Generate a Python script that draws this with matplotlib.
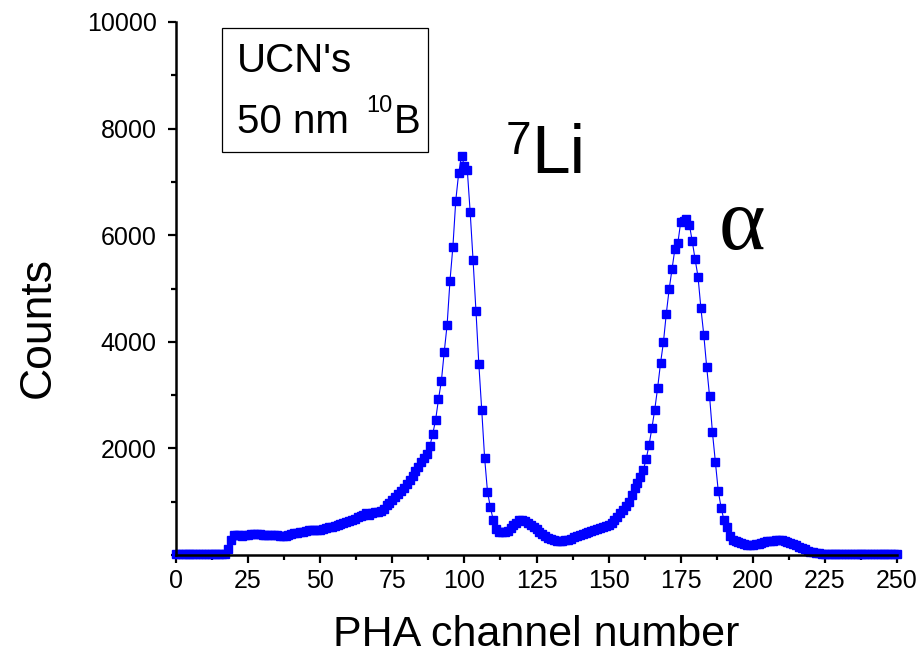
import numpy as np
import matplotlib
matplotlib.use("Agg")
import matplotlib.pyplot as plt
from matplotlib.patches import Rectangle
from matplotlib.ticker import MultipleLocator

plt.rcParams['font.family'] = ['Liberation Sans', 'DejaVu Sans']

# PHA spectrum, one value per channel
channels = np.arange(0, 251)
counts = (
    [20] * 18
    + [120, 280, 370, 375, 370, 365, 370, 380, 390, 395, 400, 395, 385, 380, 375, 380, 385, 370,
       355, 350, 365, 385, 400, 410, 420, 430, 440, 455, 465, 470, 475, 470, 475, 490, 505, 520,
       530, 540, 555, 575, 595, 615, 635, 660, 685, 705, 730, 755, 780, 760, 780, 800, 815, 830,
       870, 930, 980, 1030, 1090, 1150, 1200, 1260, 1330, 1400, 1480, 1570, 1660, 1750, 1830, 1890,
       2040, 2270, 2530, 2920, 3260, 3810, 4320, 5150, 5780, 6650, 7160, 7490, 7300, 7220, 6430,
       5530, 4580, 3580, 2720, 1825, 1190, 895, 655, 480, 430, 425, 430, 450, 500, 560, 610, 650,
       660, 640, 600, 570, 530, 490, 440, 390, 350, 320, 300, 280, 265, 260, 265, 280, 290, 310,
       330, 355, 375, 395, 415, 435, 450, 465, 480, 500, 520, 545, 570, 610, 660, 720, 790, 845,
       920, 1000, 1125, 1250, 1350, 1470, 1590, 1795, 2060, 2380, 2730, 3140, 3600, 3990, 4530,
       4990, 5370, 5750, 5850, 6250, 6270, 6300, 6200, 5885, 5545, 5220, 4630, 4130, 3530, 2980,
       2300, 1750, 1210, 890, 655, 520, 360, 290, 260, 240, 220, 205, 195, 190, 195, 205, 215,
       230, 245, 255, 265, 272, 278, 280, 275, 265, 250, 230, 210, 190, 160, 130, 105, 80, 65,
       50, 40, 35]
)
counts = counts + [20] * (len(channels) - len(counts))

xticks = [0, 25, 50, 75, 100, 125, 150, 175, 200, 225, 250]
yticks = [2000, 4000, 6000, 8000, 10000]

fig = plt.figure(figsize=(9.24, 6.6), dpi=100)
ax = fig.add_axes([0.1905, 0.159, 0.7803, 0.8077])

ax.plot(channels, counts, color='#0000ff', lw=0.8, marker='s', ms=5.6,
        mec='#0000ff', mfc='#0000ff', clip_on=False)

ax.set_xlim(0, 250)
ax.set_ylim(0, 10000)
ax.set_xticks(xticks)
ax.set_yticks(yticks)
ax.xaxis.set_minor_locator(MultipleLocator(12.5))
ax.yaxis.set_minor_locator(MultipleLocator(1000))

for s in ['top', 'right']:
    ax.spines[s].set_visible(False)
for s in ['left', 'bottom']:
    ax.spines[s].set_linewidth(1.8)
ax.tick_params(which='major', direction='out', length=6, width=1.6, labelsize=18, pad=4)
ax.tick_params(axis='y', which='major', pad=8)
ax.tick_params(which='minor', direction='out', length=3.5, width=1.6)

ax.set_xlabel('PHA channel number', fontsize=31)
ax.xaxis.set_label_coords(0.5, -0.113)
ax.set_ylabel('Counts', fontsize=32)
ax.yaxis.set_label_coords(-0.162, 0.426)

# inset label box
ax.add_patch(Rectangle((0.0634, 0.7555), 0.2866, 0.2335, transform=ax.transAxes,
                       fill=False, ec='black', lw=0.9, clip_on=False))
ax.text(0.084, 0.906, "UCN's", transform=ax.transAxes, fontsize=29, va='baseline')
ax.text(0.084, 0.792, "50 nm", transform=ax.transAxes, fontsize=29, va='baseline')
ax.text(0.264, 0.832, "10", transform=ax.transAxes, fontsize=17, va='baseline')
ax.text(0.302, 0.792, "B", transform=ax.transAxes, fontsize=29, va='baseline')

# peak labels
ax.text(0.457, 0.752, "7", transform=ax.transAxes, fontsize=33, va='baseline')
ax.text(0.492, 0.716, "Li", transform=ax.transAxes, fontsize=50, va='baseline')
ax.text(0.752, 0.575, "\u03b1", transform=ax.transAxes, fontsize=64, va='baseline',
        family=['Liberation Serif', 'DejaVu Serif'])

fig.savefig('out.png', dpi=100)
